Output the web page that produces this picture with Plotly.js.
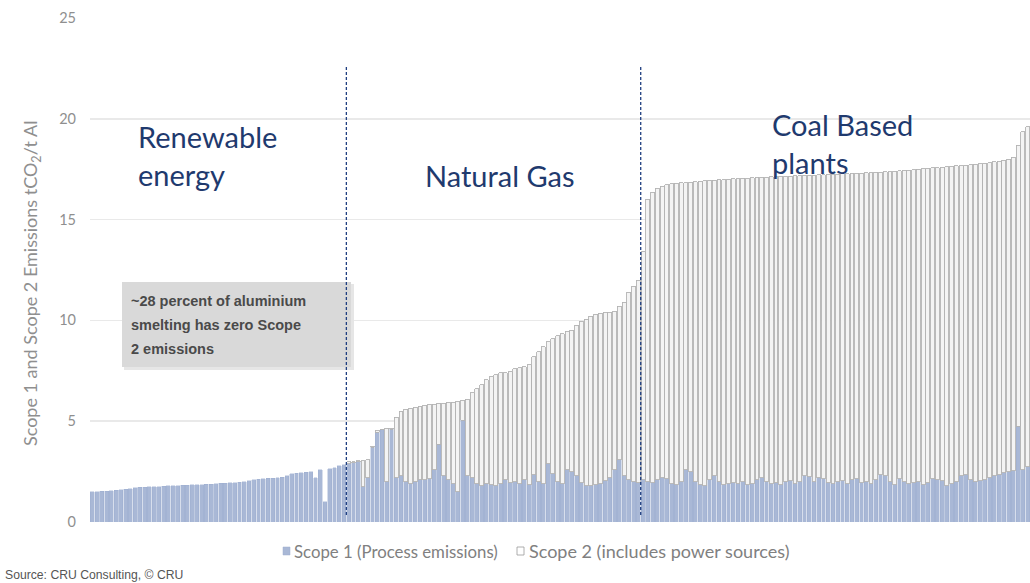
<!DOCTYPE html>
<html>
<head>
<meta charset="utf-8">
<script src="https://cdn.plot.ly/plotly-3.0.1.min.js"></script>
<style>
  html, body { margin: 0; padding: 0; background: #ffffff; }
  #chart { width: 1030px; height: 583px; }
</style>
</head>
<body>
<div id="chart"></div>
<script>
// ---- Data (tCO2 / t Al), smelters sorted by total emissions ----
const sectionLabels = ["Renewable\nenergy", "Natural Gas", "Coal Based\nplants"];
const seriesNames = ["Scope 1 (Process emissions)", "Scope 2 (includes power sources)"];

// Renewable energy smelters: Scope 1 only (zero Scope 2)
const renewableScope1 = [
  1.50,1.50,1.52,1.53,1.55,1.57,1.60,1.62,1.65,
  1.70,1.72,1.73,1.74,1.75,1.76,1.78,1.79,1.80,
  1.81,1.82,1.83,1.84,1.85,1.86,1.87,1.88,1.90,
  1.92,1.93,1.95,1.95,1.97,2.00,2.05,2.10,2.12,
  2.15,2.17,2.18,2.20,2.22,2.30,2.40,2.42,2.45,
  2.47,2.50,2.20,2.60,1.00,2.65,2.70,2.80,2.85
];

// Natural gas smelters
const gasScope1 = [
  2.90,2.95,3.00,1.75,2.20,3.70,4.45,4.60,2.00,4.60,
  2.20,2.30,2.00,1.90,2.00,2.10,2.10,2.15,2.60,3.85,
  2.30,2.10,1.90,1.50,5.05,2.30,2.20,1.90,1.80,1.90,
  1.85,1.80,1.90,2.10,1.95,2.00,1.90,2.10,1.85,2.35,
  2.00,1.90,2.90,2.40,2.00,1.90,2.60,2.50,2.30,1.95,
  1.80,1.80,1.85,1.90,2.05,2.20,2.60,3.10,2.30,2.10,
  2.00,1.95
];
const gasScope2 = [
  0.10,0.05,0.05,1.30,0.90,0.05,0.10,0.00,2.65,0.05,
  3.00,3.20,3.60,3.75,3.70,3.65,3.70,3.70,3.25,2.05,
  3.60,3.85,4.05,4.50,1.00,3.80,4.20,4.70,5.00,5.15,
  5.35,5.50,5.50,5.30,5.50,5.60,5.75,5.60,5.95,5.85,
  6.45,6.80,6.05,6.70,7.25,7.45,6.85,7.00,7.45,8.00,
  8.25,8.40,8.45,8.45,8.35,8.20,7.85,7.60,8.60,9.30,
  9.70,10.05
];

// Coal based smelters
const coalScope1 = [
  2.10,2.00,1.95,2.10,2.20,2.15,1.90,1.85,2.00,2.60,
  2.50,2.00,1.85,1.80,2.10,2.30,2.00,1.85,1.90,1.95,
  1.90,2.00,1.85,1.90,2.10,2.20,2.00,1.90,1.95,1.85,
  2.00,2.05,1.90,2.00,2.30,2.25,2.00,2.20,2.15,1.95,
  1.90,2.00,2.05,1.90,2.10,2.15,1.95,2.00,1.90,2.10,
  2.35,2.30,2.00,1.85,2.15,2.00,1.90,1.95,2.00,1.85,
  1.95,2.15,2.10,2.05,1.80,1.90,2.00,2.30,2.35,2.10,
  2.00,2.05,2.10,2.20,2.30,2.35,2.45,2.50,2.55,4.75,
  2.60,2.75
];
const coalScope2 = [
  11.30,14.00,14.40,14.45,14.45,14.57,14.88,14.95,14.82,14.24,
  14.36,14.88,15.05,15.12,14.84,14.65,14.97,15.13,15.10,15.07,
  15.13,15.05,15.21,15.18,14.99,14.90,15.11,15.22,15.18,15.29,
  15.15,15.11,15.27,15.18,14.89,14.95,15.21,15.02,15.08,15.29,
  15.35,15.26,15.22,15.38,15.19,15.15,15.36,15.32,15.43,15.24,
  15.00,15.07,15.38,15.55,15.27,15.44,15.56,15.53,15.50,15.67,
  15.59,15.41,15.48,15.55,15.82,15.74,15.66,15.38,15.35,15.62,
  15.74,15.72,15.70,15.63,15.56,15.55,15.50,15.50,15.55,13.95,
  16.75,16.85
];

const yTickVals = [0, 5, 10, 15, 20, 25];

// ---- Build traces ----
const scope1All = renewableScope1.concat(gasScope1, coalScope1);
const scope2All = gasScope2.concat(coalScope2);
const nRen = renewableScope1.length;
const nGas = gasScope1.length;
const nAll = scope1All.length;
const x1 = scope1All.map((_, i) => i);
const x2 = scope2All.map((_, i) => i + nRen);

const traces = [
  { type: 'bar', name: seriesNames[0], x: x1, y: scope1All,
    marker: { color: '#a9b8d6', line: { color: '#9cadcf', width: 0.4 } },
    hoverinfo: 'skip' },
  { type: 'bar', name: seriesNames[1], x: x2, y: scope2All,
    marker: { color: '#f4f4f4', line: { color: '#b4b4b4', width: 0.9 } },
    hoverinfo: 'skip' }
];

// pixel -> paper helpers for layout decorations (plot area 90..1030 x 18..522)
const L = 90, R = 1030, T = 18, B = 522;
const px = v => (v - L) / (R - L);
const py = v => (B - v) / (B - T);

const navy = '#1f3a6e';
const boxFont = { family: 'Liberation Sans, Arial, sans-serif', size: 14.5, color: '#4a4a4a', weight: 700 };
const annotations = [
  { xref: 'paper', yref: 'paper', x: px(136), y: py(117), xanchor: 'left', yanchor: 'top',
    text: sectionLabels[0].replace('\n', '<br>'), showarrow: false, align: 'left',
    font: { family: 'Lato, sans-serif', size: 29, color: navy } },
  { xref: 'paper', yref: 'paper', x: px(423), y: py(156), xanchor: 'left', yanchor: 'top',
    text: sectionLabels[1], showarrow: false, align: 'left',
    font: { family: 'Lato, sans-serif', size: 29, color: navy } },
  { xref: 'paper', yref: 'paper', x: px(770), y: py(105), xanchor: 'left', yanchor: 'top',
    text: sectionLabels[2].replace('\n', '<br>'), showarrow: false, align: 'left',
    font: { family: 'Lato, sans-serif', size: 29, color: navy } },
  // note box text
  { xref: 'paper', yref: 'paper', x: px(129), y: py(301), xanchor: 'left', yanchor: 'middle',
    text: '~28 percent of aluminium', showarrow: false, font: boxFont },
  { xref: 'paper', yref: 'paper', x: px(129), y: py(325), xanchor: 'left', yanchor: 'middle',
    text: 'smelting has zero Scope', showarrow: false, font: boxFont },
  { xref: 'paper', yref: 'paper', x: px(129), y: py(349), xanchor: 'left', yanchor: 'middle',
    text: '2 emissions', showarrow: false, font: boxFont },
  // y-axis title
  { xref: 'paper', yref: 'paper', x: px(31), y: py(284), xanchor: 'center', yanchor: 'middle',
    textangle: -90, showarrow: false,
    text: 'Scope 1 and Scope 2 Emissions tCO<sub>2</sub>/t Al',
    font: { family: 'Lato, sans-serif', size: 18, color: '#8f8f8f' } },
  // legend texts
  { xref: 'paper', yref: 'paper', x: px(292), y: py(551), xanchor: 'left', yanchor: 'middle',
    text: seriesNames[0], showarrow: false,
    font: { family: 'Lato, sans-serif', size: 16.8, color: '#808080' } },
  { xref: 'paper', yref: 'paper', x: px(527), y: py(551), xanchor: 'left', yanchor: 'middle',
    text: seriesNames[1], showarrow: false,
    font: { family: 'Lato, sans-serif', size: 18, color: '#808080' } },
  // source
  { xref: 'paper', yref: 'paper', x: px(3), y: py(575), xanchor: 'left', yanchor: 'middle',
    text: 'Source: CRU Consulting, © CRU', showarrow: false,
    font: { family: 'Liberation Sans Narrow, Liberation Sans, Arial, sans-serif', size: 12.2, color: '#555555' } }
];

const shapes = [
  // note box
  { type: 'rect', xref: 'paper', yref: 'paper', x0: px(124), x1: px(354), y0: py(370), y1: py(284),
    fillcolor: '#e6e6e6', line: { width: 0 }, layer: 'above' },
  { type: 'rect', xref: 'paper', yref: 'paper', x0: px(122), x1: px(351), y0: py(367), y1: py(282),
    fillcolor: '#d9d9d9', line: { width: 0 }, layer: 'above' },
  // section dividers
  { type: 'line', xref: 'x', yref: 'paper', x0: nRen - 0.5, x1: nRen - 0.5, y0: py(515), y1: py(65),
    line: { color: '#1f3f80', width: 1.3, dash: '3px,2px' }, layer: 'above' },
  { type: 'line', xref: 'x', yref: 'paper', x0: nRen + nGas - 0.5, x1: nRen + nGas - 0.5, y0: py(515), y1: py(65),
    line: { color: '#1f3f80', width: 1.3, dash: '3px,2px' }, layer: 'above' },
  // legend swatches
  { type: 'rect', xref: 'paper', yref: 'paper', x0: px(283), x1: px(290), y0: py(555), y1: py(547),
    fillcolor: '#a9b8d6', line: { color: '#9cadcf', width: 0.5 } },
  { type: 'rect', xref: 'paper', yref: 'paper', x0: px(517), x1: px(524), y0: py(555), y1: py(547),
    fillcolor: '#ffffff', line: { color: '#9a9a9a', width: 0.8 } }
];

const layout = {
  width: 1030, height: 583,
  margin: { l: L, r: 1030 - R, t: T, b: 583 - B, pad: 0 },
  paper_bgcolor: '#ffffff', plot_bgcolor: '#ffffff',
  barmode: 'stack', bargap: 0.18,
  showlegend: false,
  xaxis: { range: [-0.5, nAll - 0.5], showticklabels: false, showgrid: false,
           zeroline: false, showline: false, ticks: '' },
  yaxis: { range: [0, 25], tickvals: yTickVals, ticktext: yTickVals.map(String),
           showgrid: true, gridcolor: '#e9e9e9', gridwidth: 1.5,
           zeroline: false, showline: false, ticks: '', ticklabelstandoff: 13,
           tickfont: { family: 'Lato, sans-serif', size: 14.5, color: '#8f8f8f' } },
  annotations: annotations,
  shapes: shapes,
  font: { family: 'Lato, sans-serif' }
};

Plotly.newPlot('chart', traces, layout, { staticPlot: true, displayModeBar: false });
</script>
</body>
</html>
